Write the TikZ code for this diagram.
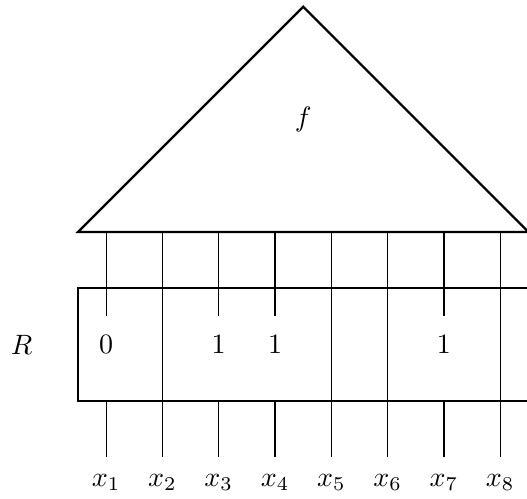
\documentclass[tikz,border=0pt]{standalone}
\begin{document}
\begin{tikzpicture}[x=0.707cm,y=0.707cm,
  outline/.style={draw,line width=0.8pt},
  wire/.style={draw,line width=0.4pt},
  lbl/.style={inner sep=0pt}]
\useasboundingbox (-0.885,-4.74) rectangle (8.475,4.12);
% triangle f
\coordinate (tl) at (0.5,0);
\coordinate (tr) at (8.5,0);
\coordinate (top) at (4.5,4);
\draw[outline] (tl) -- (top) -- (tr) -- cycle;
\node[lbl] (f) at (4.5,2) {$f$};
% register R
\draw[outline] (0.5,-1) rectangle (8.5,-3);
\node[lbl] (R) at (-0.5,-2) {$R$};
% wires
\foreach \i in {1,...,8} {
  \coordinate (a\i) at (\i,0);
  \coordinate (s\i) at (\i,-1.5);
  \coordinate (b\i) at (\i,-3);
  \coordinate (e\i) at (\i,-4);
  \node[lbl] (x\i) at (\i,-4.45) {$x_{\i}$};
  \draw[wire] (b\i) -- (e\i);
}
\foreach \i in {1,3,4,7} { \draw[wire] (a\i) -- (s\i); }
\foreach \i in {2,5,6,8} { \draw[wire] (a\i) -- (b\i); }
% register contents
\node[lbl] (v1) at (1,-2) {$0$};
\node[lbl] (v3) at (3,-2) {$1$};
\node[lbl] (v4) at (4,-2) {$1$};
\node[lbl] (v7) at (7,-2) {$1$};
\end{tikzpicture}
\end{document}
